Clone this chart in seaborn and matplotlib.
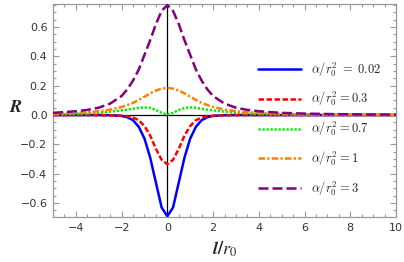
import numpy as np
import pandas as pd
import seaborn as sns
from matplotlib import pyplot as plt
from matplotlib.ticker import MultipleLocator

# values
l_r0 = [-5, -4.5, -4, -3.5, -3, -2.5, -2, -1.75, -1.5, -1.25, -1, -0.75, -0.5, -0.25, 0,
        0.25, 0.5, 0.75, 1, 1.25, 1.5, 1.75, 2, 2.5, 3, 3.5, 4, 4.5, 5, 6, 7, 8, 9, 10]

R_002 = [0, 0, 0, 0, 0, -0.001, -0.006, -0.015, -0.035, -0.08, -0.16, -0.29, -0.46, -0.63, -0.69,
         -0.63, -0.46, -0.29, -0.16, -0.08, -0.035, -0.015, -0.006, -0.001, 0, 0, 0, 0, 0, 0, 0, 0, 0, 0]
R_03 = [0, 0, 0, 0, -0.001, -0.002, -0.005, -0.009, -0.017, -0.035, -0.075, -0.14, -0.23, -0.305, -0.335,
        -0.305, -0.23, -0.14, -0.075, -0.035, -0.017, -0.009, -0.005, -0.002, -0.001, 0, 0, 0, 0, 0, 0, 0, 0, 0]
R_07 = [0.004, 0.006, 0.008, 0.011, 0.016, 0.023, 0.032, 0.037, 0.043, 0.049, 0.052, 0.048, 0.035, 0.015, 0.003,
        0.015, 0.035, 0.048, 0.052, 0.049, 0.043, 0.037, 0.032, 0.023, 0.016, 0.011, 0.008, 0.006, 0.004,
        0.002, 0.0015, 0.001, 0.0008, 0.0005]
R_1 = [0.008, 0.011, 0.014, 0.019, 0.026, 0.037, 0.055, 0.068, 0.083, 0.103, 0.125, 0.148, 0.167, 0.18, 0.185,
       0.18, 0.167, 0.148, 0.125, 0.103, 0.083, 0.068, 0.055, 0.037, 0.026, 0.019, 0.014, 0.011, 0.008,
       0.005, 0.003, 0.002, 0.0015, 0.001]
R_3 = [0.015, 0.02, 0.026, 0.035, 0.05, 0.078, 0.13, 0.175, 0.235, 0.31, 0.41, 0.51, 0.62, 0.71, 0.75,
       0.71, 0.62, 0.51, 0.41, 0.31, 0.235, 0.175, 0.13, 0.078, 0.05, 0.035, 0.026, 0.02, 0.015,
       0.01, 0.007, 0.005, 0.004, 0.003]

labels = [r'$\alpha/r_0^2\;=\;0.02$', r'$\alpha/r_0^2 = 0.3$', r'$\alpha/r_0^2 = 0.7$',
          r'$\alpha/r_0^2 = 1$', r'$\alpha/r_0^2 = 3$']
colors = ['#0000FF', '#FF0000', '#00EE00', '#FF8000', '#800080']
dash_styles = ['', (2.2, 1.0), (0.9, 0.7), (2.6, 0.9, 0.9, 0.9), (4.0, 1.6)]

frames = []
for lab, vals in zip(labels, [R_002, R_03, R_07, R_1, R_3]):
    frames.append(pd.DataFrame({'l': l_r0, 'R': vals, 'alpha': lab}))
df = pd.concat(frames, ignore_index=True)

sns.set_style("ticks")
plt.rcParams['mathtext.fontset'] = 'cm'

fig = plt.figure(figsize=(4.04, 2.62), dpi=100)
ax = fig.add_axes([53 / 404, 45 / 262, 343 / 404, 213 / 262])

ax.axhline(0, color='black', lw=0.9, zorder=1)
ax.axvline(0, color='black', lw=0.9, zorder=1)

sns.lineplot(data=df, x='l', y='R', hue='alpha', style='alpha',
             palette=dict(zip(labels, colors)), dashes=dict(zip(labels, dash_styles)),
             linewidth=1.8, ax=ax, zorder=3)

ax.set_xlim(-5, 10)
ax.set_ylim(-0.695, 0.757)
ax.xaxis.set_minor_locator(MultipleLocator(0.5))
ax.yaxis.set_minor_locator(MultipleLocator(0.05))
ax.set_yticks([-0.6, -0.4, -0.2, 0.0, 0.2, 0.4, 0.6])
ax.set_yticklabels(['\u22120.6', '\u22120.4', '\u22120.2', '0.0', '0.2', '0.4', '0.6'])
ax.set_xticks([-4, -2, 0, 2, 4, 6, 8, 10])
ax.set_xticklabels(['\u22124', '\u22122', '0', '2', '4', '6', '8', '10'])

for s in ax.spines.values():
    s.set_color('#999999')
    s.set_linewidth(0.9)
ax.tick_params(which='both', direction='in', top=True, right=True, color='#999999',
               labelsize=8, labelcolor='#333333', width=0.8)
ax.tick_params(which='major', length=4, pad=4)
ax.tick_params(which='minor', length=2)

ax.set_xlabel(r'$\boldsymbol{l/r_0}$', fontsize=13, math_fontfamily='stix')
ax.xaxis.set_label_coords(0.5, -0.105)
ax.set_ylabel(r'$\boldsymbol{R}$', fontsize=13, math_fontfamily='stix', rotation=0, va='center')
ax.yaxis.set_label_coords(-0.108, 0.516)

sns.move_legend(ax, 'upper left', bbox_to_anchor=(0.598, 0.735), title=None, frameon=False,
                fontsize=9, handlelength=3.4, labelspacing=0.92, handletextpad=0.85,
                borderaxespad=0, borderpad=0)

fig.savefig('out.png', dpi=100)
